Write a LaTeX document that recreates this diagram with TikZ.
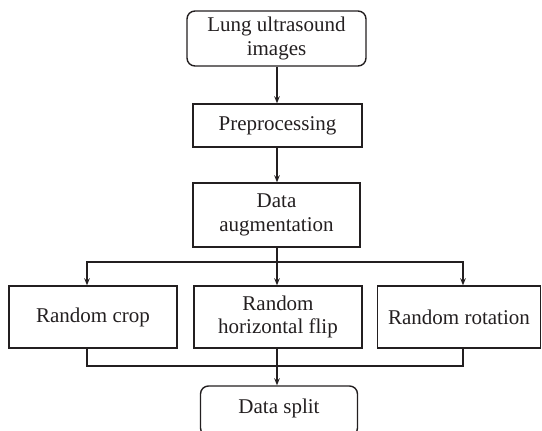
\documentclass[tikz,border=0pt]{standalone}
\usepackage{fontspec}
\setmainfont{Liberation Serif}
\usetikzlibrary{arrows.meta}
\definecolor{ink}{HTML}{231F20}
\tikzset{
  box/.style={draw=ink, line width=1.4pt, inner sep=0pt, align=center, text=ink,
    font=\fontsize{21}{23.5}\selectfont},
  rbox/.style={box, rounded corners=8pt},
  arr/.style={draw=ink, line width=1.4pt, -{Stealth[length=7pt,width=5.5pt]}},
  ln/.style={draw=ink, line width=1.4pt}
}
\begin{document}
\begin{tikzpicture}[x=1pt,y=-1pt]
\useasboundingbox (0,0) rectangle (542,431);
\node[rbox, minimum width=179pt, minimum height=55pt] (lung) at (276.5,38.5) {Lung ultrasound\\images};
\node[box, minimum width=169pt, minimum height=43pt] (pre) at (277.5,125.5) {Preprocessing};
\node[box, minimum width=167pt, minimum height=64pt] (aug) at (276.5,215) {Data\\augmentation};
\node[box, minimum width=168pt, minimum height=62pt] (crop) at (93,317) {Random crop};
\node[box, minimum width=168pt, minimum height=62pt] (flip) at (278,317) {Random\\horizontal flip};
\node[box, minimum width=163pt, minimum height=62pt] (rot) at (459,317) {Random rotation};
\node[rbox, minimum width=157pt, minimum height=50pt] (split) at (279,411) {};
\node[text=ink, font=\fontsize{21}{23.5}\selectfont] (splittext) at (279,408) {Data split};
\coordinate (fork) at (277,262);
\coordinate (jl) at (87,366);
\coordinate (jm) at (277,366);
\coordinate (jr) at (463,366);
\draw[arr] (lung.south -| fork) -- (pre.north -| fork);
\draw[arr] (pre.south -| fork) -- (aug.north -| fork);
\draw[ln] (aug.south -| fork) -- (fork);
\draw[arr] (fork) -- (flip.north -| fork);
\draw[arr] (fork) -| (crop.north -| jl);
\draw[arr] (fork) -| (rot.north -| jr);
\draw[ln] (crop.south -| jl) -- (jl) -- (jr) -- (rot.south -| jr);
\draw[ln] (flip.south -| jm) -- (jm);
\draw[arr] (jm) -- (split.north -| jm);
\end{tikzpicture}
\end{document}
